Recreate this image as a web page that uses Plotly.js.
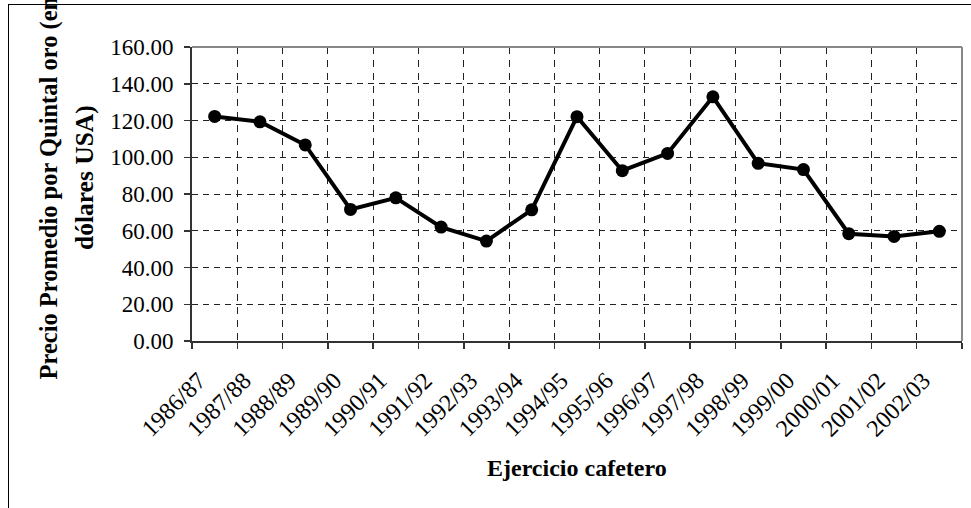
<!DOCTYPE html>
<html>
<head>
<meta charset="utf-8">
<script src="https://cdn.plot.ly/plotly-3.0.1.min.js"></script>
<style>
  html, body { margin: 0; padding: 0; width: 971px; height: 508px; overflow: hidden; background: #fff; }
  #frame { position: absolute; left: 8px; top: 4px; width: 1200px; height: 800px; border: 1px solid #000; pointer-events: none; }
  #chart { position: absolute; left: 0; top: 0; width: 971px; height: 508px; }
</style>
</head>
<body>
<div id="chart"></div>
<div id="frame"></div>
<script>
const categories = ["1986/87","1987/88","1988/89","1989/90","1990/91","1991/92","1992/93","1993/94","1994/95","1995/96","1996/97","1997/98","1998/99","1999/00","2000/01","2001/02","2002/03"];
const precio = [122.2, 119.3, 106.7, 71.6, 77.9, 62.0, 54.4, 71.4, 122.1, 92.7, 102.1, 132.9, 96.7, 93.3, 58.4, 56.9, 59.7];
const yTitleLine1 = "Precio Promedio por Quintal oro (en";
const yTitleLine2 = "dólares USA)";
const xTitle = "Ejercicio cafetero";

const serif = "Liberation Serif, Times New Roman, serif";

const trace = {
  type: 'scatter', mode: 'lines+markers',
  x: categories, y: precio,
  line: { color: '#000', width: 4 },
  marker: { color: '#000', size: 13, symbol: 'circle' },
  cliponaxis: false,
  hoverinfo: 'skip'
};

const layout = {
  width: 971, height: 508,
  margin: { l: 192, r: 9, t: 47, b: 167 },
  paper_bgcolor: 'rgba(0,0,0,0)', plot_bgcolor: '#fff',
  showlegend: false,
  font: { family: serif, color: '#000', size: 22 },
  xaxis: {
    type: 'category', range: [-0.5, 16.5],
    tickson: 'boundaries', ticks: 'outside', ticklen: 6, tickwidth: 1.5, tickcolor: '#333',
    showgrid: true, gridcolor: '#222', gridwidth: 1, griddash: '7px,6px',
    showline: true, linecolor: '#333', linewidth: 2,
    tickangle: -45, tickfont: { family: serif, size: 24, color: '#000' },
    ticklabelstandoff: 14, ticklabelshift: -16,
    zeroline: false, fixedrange: true
  },
  yaxis: {
    range: [0, 160], dtick: 20, tick0: 0, tickformat: '.2f',
    ticks: 'outside', ticklen: 6, tickwidth: 1.5, tickcolor: '#333',
    showgrid: true, gridcolor: '#222', gridwidth: 1, griddash: '6px,5px',
    showline: true, linecolor: '#333', linewidth: 2,
    tickfont: { family: serif, size: 23, color: '#000' },
    ticklabelstandoff: 6,
    zeroline: false, fixedrange: true
  },
  shapes: [
    { type: 'line', xref: 'paper', yref: 'paper', x0: 0, x1: 1, y0: 1, y1: 1, line: { color: '#888', width: 2 } },
    { type: 'line', xref: 'paper', yref: 'paper', x0: 1, x1: 1, y0: 0, y1: 1, line: { color: '#888', width: 2 } }
  ],
  annotations: [
    { text: '<b>' + yTitleLine1 + '</b>', xref: 'paper', yref: 'paper', x: (48 - 192) / 770, y: (341 - 382) / 294,
      xanchor: 'center', yanchor: 'bottom', textangle: -90, showarrow: false,
      font: { family: serif, size: 24.5, color: '#000' } },
    { text: '<b>' + yTitleLine2 + '</b>', xref: 'paper', yref: 'paper', x: (84 - 192) / 770, y: (341 - 178) / 294,
      xanchor: 'center', yanchor: 'middle', textangle: -90, showarrow: false,
      font: { family: serif, size: 25.5, color: '#000' } },
    { text: '<b>' + xTitle + '</b>', xref: 'paper', yref: 'paper', x: 0.5, y: (341 - 468) / 294,
      xanchor: 'center', yanchor: 'middle', showarrow: false,
      font: { family: serif, size: 24, color: '#000' } }
  ]
};

Plotly.newPlot('chart', [trace], layout, { displayModeBar: false, staticPlot: true });
</script>
</body>
</html>
